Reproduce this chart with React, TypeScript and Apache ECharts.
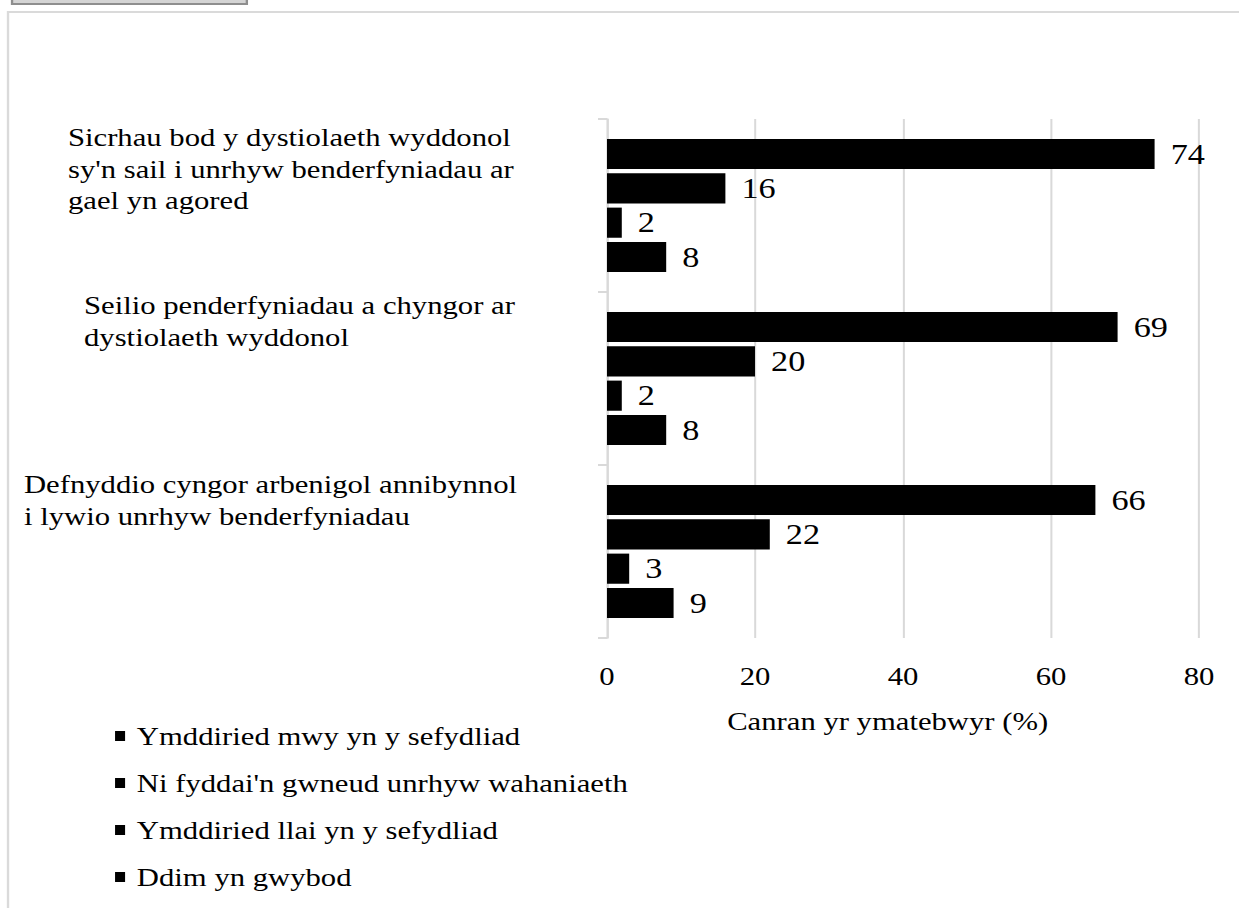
import React, { useEffect, useRef } from "react";
import * as echarts from "echarts";

const categories = [
  "Sicrhau bod y dystiolaeth wyddonol\nsy'n sail i unrhyw benderfyniadau ar\ngael yn agored",
  "Seilio penderfyniadau a chyngor ar\ndystiolaeth wyddonol",
  "Defnyddio cyngor arbenigol annibynnol\ni lywio unrhyw benderfyniadau",
];

const seriesNames = [
  "Ymddiried mwy yn y sefydliad",
  "Ni fyddai'n gwneud unrhyw wahaniaeth",
  "Ymddiried llai yn y sefydliad",
  "Ddim yn gwybod",
];

const moreTrust = [74, 69, 66];
const noDifference = [16, 20, 22];
const lessTrust = [2, 2, 3];
const dontKnow = [8, 8, 9];

const xMin = 0;
const xMax = 80;
const xInterval = 20;
const axisTitle = "Canran yr ymatebwyr (%)";

// the reference is drawn horizontally widened; the chart is laid out on a
// narrower canvas and widened by the same factor
const CANVAS_W = 1050;
const STRETCH = 1239 / CANVAS_W;

// category label layout: left edge and offset from the band's top edge
const labelLeft = [57.6, 71.2, 20.3];
const labelTopOffset = [3, -2, 4];

const FONT = "'Liberation Serif', 'Times New Roman', serif";
const FS = 26;
const FS_VALUE = 29;

export default function App() {
  const ref = useRef<HTMLDivElement>(null);

  useEffect(() => {
    if (!ref.current) return;
    const chart = echarts.init(ref.current, undefined, { renderer: "svg" });
    const values = [moreTrust, noDifference, lessTrust, dontKnow];
    const frame = [
      {
        type: "rect",
        z: -10,
        shape: { x: 6.8, y: 12, width: 1200, height: 1100 },
        style: { fill: "none", stroke: "#dadada", lineWidth: 2 },
      },
      {
        type: "rect",
        z: -10,
        shape: { x: 10.2, y: -4, width: 199, height: 8 },
        style: { fill: "#d4d4d4", stroke: "#8e8e8e", lineWidth: 2 },
      },
    ];
    chart.setOption({
      animation: false,
      backgroundColor: "#ffffff",
      textStyle: { fontFamily: FONT, color: "#000" },
      graphic: frame,
      grid: {
        left: 514.4,
        right: 33.9,
        top: 119,
        bottom: 270,
        containLabel: false,
        outerBoundsMode: "none",
      },
      legend: {
        orient: "vertical",
        left: 92.5,
        top: 716,
        itemWidth: 8.5,
        itemHeight: 10,
        itemGap: 17,
        icon: "rect",
        data: seriesNames,
        textStyle: {
          fontFamily: FONT,
          fontSize: FS,
          color: "#000",
          lineHeight: 30,
          padding: [0, 0, 0, 5],
        },
      },
      xAxis: {
        type: "value",
        min: xMin,
        max: xMax,
        interval: xInterval,
        axisLine: { show: false },
        axisTick: { show: false },
        splitLine: { show: true, lineStyle: { color: "#d9d9d9", width: 1.7 } },
        axisLabel: {
          fontFamily: FONT,
          fontSize: FS,
          color: "#000",
          margin: 25,
        },
        name: axisTitle,
        nameLocation: "middle",
        nameGap: 70,
        nameTextStyle: {
          fontFamily: FONT,
          fontSize: FS,
          color: "#000",
          padding: [0, 26, 0, 0],
        },
      },
      yAxis: {
        type: "category",
        inverse: true,
        data: categories,
        axisLine: { show: true, lineStyle: { color: "#d9d9d9", width: 1.7 } },
        axisTick: { show: true, length: 7.6, lineStyle: { color: "#d9d9d9", width: 2 } },
        splitLine: { show: false },
        axisLabel: { show: false },
      },
      series: seriesNames.map((name, si) => ({
        name,
        type: "bar",
        data: values[si],
        barCategoryGap: "23%",
        barGap: "14%",
        itemStyle: { color: "#000" },
        label: {
          show: true,
          position: "right",
          distance: 13.6,
          fontFamily: FONT,
          fontSize: FS_VALUE,
          color: "#000",
        },
      })),
    });

    const c0 = chart.convertToPixel({ yAxisIndex: 0 }, categories[0]) as number;
    const c1 = chart.convertToPixel({ yAxisIndex: 0 }, categories[1]) as number;
    const band = Math.abs(c1 - c0);
    const labelTexts = categories.map((c, i) => {
      const cy = chart.convertToPixel({ yAxisIndex: 0 }, c) as number;
      return {
        type: "text",
        x: labelLeft[i],
        y: cy - band / 2 + labelTopOffset[i],
        style: {
          text: c,
          fontFamily: FONT,
          fontSize: FS,
          lineHeight: 31.5,
          fill: "#000",
          align: "left",
          verticalAlign: "top",
        },
      };
    });
    chart.setOption({ graphic: [...frame, ...labelTexts] });

    return () => chart.dispose();
  }, []);

  return (
    <div
      ref={ref}
      style={{
        position: "absolute",
        left: 0,
        top: 0,
        width: CANVAS_W,
        height: 908,
        transform: `scaleX(${STRETCH})`,
        transformOrigin: "0 0",
      }}
    />
  );
}
